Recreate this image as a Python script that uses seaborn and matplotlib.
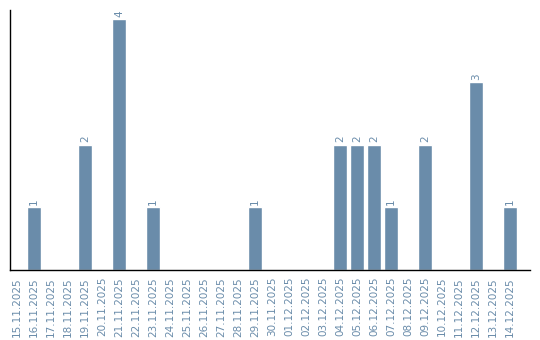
import matplotlib
matplotlib.use("Agg")
import matplotlib.pyplot as plt
import seaborn as sns
import pandas as pd

dates = ["15.11.2025", "16.11.2025", "17.11.2025", "18.11.2025", "19.11.2025",
         "20.11.2025", "21.11.2025", "22.11.2025", "23.11.2025", "24.11.2025",
         "25.11.2025", "26.11.2025", "27.11.2025", "28.11.2025", "29.11.2025",
         "30.11.2025", "01.12.2025", "02.12.2025", "03.12.2025", "04.12.2025",
         "05.12.2025", "06.12.2025", "07.12.2025", "08.12.2025", "09.12.2025",
         "10.12.2025", "11.12.2025", "12.12.2025", "13.12.2025", "14.12.2025"]
counts = [0, 1, 0, 0, 2, 0, 4, 0, 1, 0, 0, 0, 0, 0, 1,
          0, 0, 0, 0, 2, 2, 2, 1, 0, 2, 0, 0, 3, 0, 1]

color = "#6a8caa"
sns.set_style("white")
fig = plt.figure(figsize=(5.4, 3.4), dpi=100)
ax = fig.add_axes([10/540, 70/340, 520/540, 260/340])
df = pd.DataFrame({"date": dates, "count": counts})
sns.barplot(data=df, x="date", y="count", color=color, saturation=1, width=0.82, ax=ax)

for i, v in enumerate(counts):
    if v > 0:
        ax.text(i, v + 0.04, str(v), rotation=90, ha="center", va="bottom",
                fontsize=7.5, color=color)

ax.set_ylim(0, 4.15)
ax.set_xlim(-0.41, 30.18)
ax.set_xlabel("")
ax.set_ylabel("")
ax.set_yticks([])
ax.tick_params(axis="x", length=0, pad=5, labelsize=7.5, labelcolor=color, rotation=90)
for s in ["top", "right"]:
    ax.spines[s].set_visible(False)
for s in ["left", "bottom"]:
    ax.spines[s].set_color("black")
    ax.spines[s].set_linewidth(1.0)

fig.savefig("out.png", dpi=100)
